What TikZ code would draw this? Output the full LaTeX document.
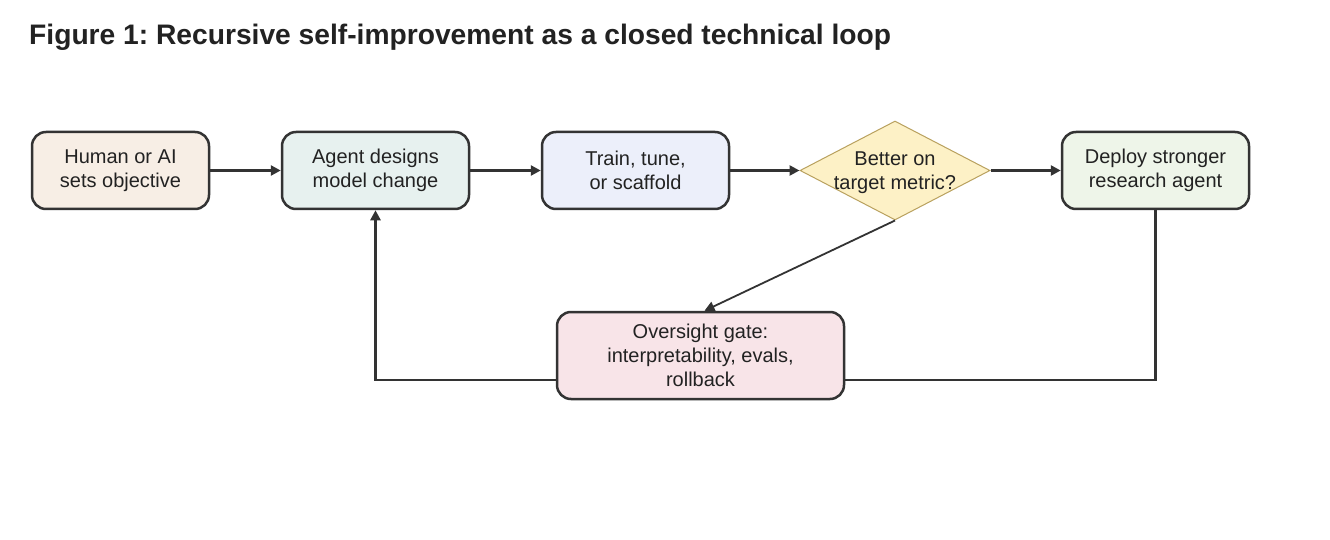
\documentclass[tikz,border=0pt]{standalone}
\usepackage{fontspec}
\setmainfont{Liberation Sans}
\usetikzlibrary{shapes.geometric,arrows.meta,backgrounds}
\frenchspacing
\definecolor{ink}{HTML}{333333}
\definecolor{txt}{HTML}{222222}
\definecolor{fA}{HTML}{F7EEE5}
\definecolor{fB}{HTML}{E7F1EF}
\definecolor{fC}{HTML}{ECEFFA}
\definecolor{fD}{HTML}{FDF1C6}
\definecolor{dD}{HTML}{B9A15E}
\definecolor{fE}{HTML}{EEF5E9}
\definecolor{fF}{HTML}{F8E4E8}
\tikzset{
  stepbox/.style={draw=ink, line width=2.5pt, rounded corners=14pt, align=center,
    text=txt, font=\fontsize{20}{24}\selectfont, inner sep=0pt,
    minimum width=187pt, minimum height=77pt},
  conn/.style={draw=ink, line width=2.5pt, -{Triangle[length=10pt,width=10pt]}},
  thinconn/.style={draw=ink, line width=1.8pt, -{Triangle[length=10pt,width=10pt]}}
}
\begin{document}
\begin{tikzpicture}[x=1pt,y=-1pt]
\useasboundingbox (0,0) rectangle (1330,540);
\node[anchor=base west, font=\bfseries\fontsize{28.2}{32}\selectfont, text=txt, inner sep=0pt] (title) at (29,45) {Figure 1: Recursive self-improvement as a closed technical loop};
\node[stepbox, fill=fA, minimum width=177pt] (human) at (120.5,170.5) {Human or AI\\sets objective};
\node[stepbox, fill=fB] (agent) at (375.5,170.5) {Agent designs\\model change};
\node[stepbox, fill=fC] (train) at (635.5,170.5) {Train, tune,\\or scaffold};
\node[shape=diamond, draw=dD, fill=fD, line width=1pt, minimum width=190pt, minimum height=99pt, inner sep=0pt] (dia) at (895,170.5) {};
\node[align=center, text=txt, font=\fontsize{20}{24}\selectfont, inner sep=0pt] (diatext) at ([yshift=-2.5pt]dia.center) {Better on\\target metric?};
\node[stepbox, fill=fE] (deploy) at (1155.5,170.5) {Deploy stronger\\research agent};
\node[stepbox, fill=fF, minimum width=287pt, minimum height=87pt] (over) at (700.5,355.5) {Oversight gate:\\interpretability, evals,\\rollback};
\coordinate (loopy) at (0,380);
\draw[conn] (human.east) -- (agent.west);
\draw[conn] (agent.east) -- (train.west);
\draw[conn] (train.east) -- (dia.west);
\draw[conn] (dia.east) -- (deploy.west);
\draw[thinconn] (dia.south) -- ([xshift=4pt]over.north);
\begin{scope}[on background layer]
\fill[white] (0,0) rectangle (1330,540);
\draw[conn] (deploy.south) -- (deploy.south |- loopy) -- (agent.south |- loopy) -- (agent.south);
\end{scope}
\end{tikzpicture}
\end{document}
